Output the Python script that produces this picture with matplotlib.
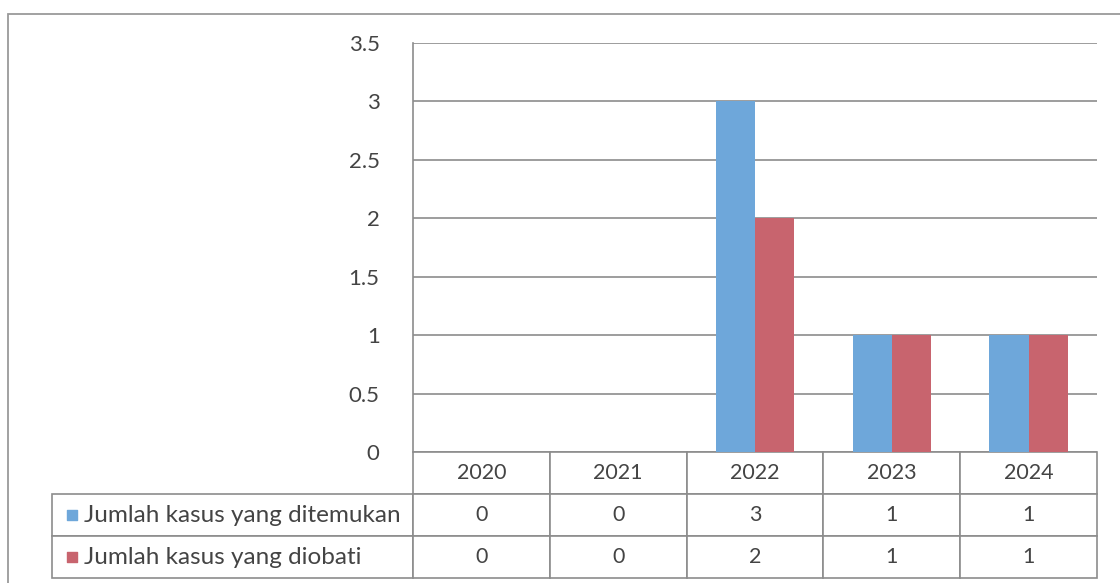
import numpy as np
import matplotlib
import matplotlib.pyplot as plt
from matplotlib.patches import Rectangle

years = ["2020", "2021", "2022", "2023", "2024"]
ditemukan = [0, 0, 3, 1, 1]
diobati = [0, 0, 2, 1, 1]
series_names = ["Jumlah kasus yang ditemukan", "Jumlah kasus yang diobati"]
yticks = [0, 0.5, 1, 1.5, 2, 2.5, 3, 3.5]

blue = "#6ea7da"
red = "#c8646e"
grid = "#8c8c8c"
textc = "#444444"

matplotlib.rc("font", family=["Lato", "DejaVu Sans"], size=15)

fig = plt.figure(figsize=(11.2, 5.83), dpi=100)
ax = fig.add_axes([413 / 1120, 1 - 452 / 583, 684 / 1120, 409 / 583])

# outer chart frame
fig.patches.append(Rectangle((8 / 1120, -0.05), 1.1, 1 - 14 / 583 + 0.05,
                             transform=fig.transFigure, fill=False,
                             edgecolor="#9a9a9a", linewidth=1.3))

x = np.arange(len(years))
w = 0.286
ax.bar(x - w / 2, ditemukan, w, color=blue, zorder=3)
ax.bar(x + w / 2, diobati, w, color=red, zorder=3)

ax.set_xlim(-0.5, len(years) - 0.5)
ax.set_ylim(0, 3.5)
ax.set_yticks(yticks)
ax.set_yticklabels([f"{v:g}" for v in yticks], color=textc, fontsize=16)
ax.tick_params(axis="y", length=0, pad=24)
ax.set_xticks([])
ax.yaxis.grid(True, color=grid, linewidth=1.2, zorder=0)
for s in ["top", "right", "bottom"]:
    ax.spines[s].set_visible(False)
ax.spines["left"].set_color(grid)
ax.spines["left"].set_linewidth(1.2)

# data table under the axis
cells = [[""] + years,
         [series_names[0]] + [str(v) for v in ditemukan],
         [series_names[1]] + [str(v) for v in diobati]]
x0 = (52 - 413) / 684
tw = 1045 / 684
th = 126 / 409
tbl = ax.table(cellText=cells, bbox=[x0, -th, tw, th], cellLoc="center")
tbl.auto_set_font_size(False)
lab_w = 361 / 1045
col_w = (1 - lab_w) / len(years)
for (r, c), cell in tbl.get_celld().items():
    cell.set_width(lab_w if c == 0 else col_w)
    cell.set_edgecolor(grid)
    cell.set_linewidth(1.2)
    cell.get_text().set_color(textc)
    cell.get_text().set_fontsize(15.5)
    if c == 0:
        cell.get_text().set_ha("left")
        cell.get_text().set_fontsize(17.5)
        cell.PAD = 0.09
    if r == 0 and c == 0:
        cell.visible_edges = ""

# legend keys in the row labels
for i, col in enumerate([blue, red]):
    ax.scatter([(72 - 413) / 684], [-(th / 3) * (i + 1.5)], marker="s", s=55,
               color=col, transform=ax.transAxes, clip_on=False, zorder=5)

fig.savefig("out.png", dpi=100)
